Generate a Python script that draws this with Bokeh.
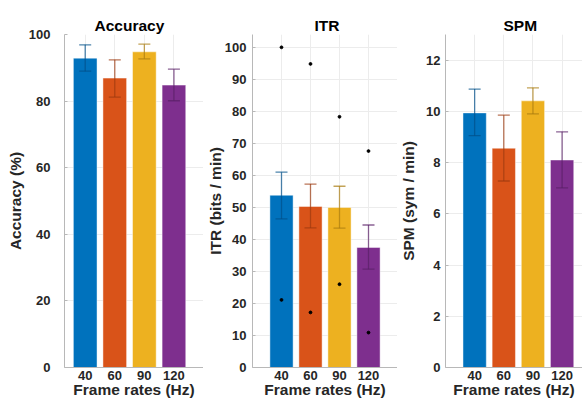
from bokeh.plotting import figure
from bokeh.layouts import row
from bokeh.models import FixedTicker, Range1d, ColumnDataSource
from bokeh.embed import file_html
from bokeh.resources import INLINE

categories = ["40", "60", "90", "120"]
acc_mean = [92.9, 86.9, 94.8, 84.8]
acc_lo = [89.0, 81.2, 92.7, 80.1]
acc_hi = [96.9, 92.4, 97.1, 89.6]
itr_mean = [53.8, 50.3, 50.0, 37.5]
itr_lo = [46.4, 43.6, 43.5, 30.7]
itr_hi = [61.0, 57.3, 56.6, 44.5]
itr_max = [100.0, 94.8, 78.3, 67.6]
itr_min = [21.1, 17.2, 26.0, 10.9]
spm_mean = [9.94, 8.56, 10.41, 8.10]
spm_lo = [9.05, 7.28, 9.90, 7.01]
spm_hi = [10.87, 9.85, 10.92, 9.20]
acc_ticks = [0, 20, 40, 60, 80, 100]
itr_ticks = [0, 10, 20, 30, 40, 50, 60, 70, 80, 90, 100]
spm_ticks = [0, 2, 4, 6, 8, 10, 12]

bar_colors = ["#0072BD", "#D95319", "#EDB120", "#7E2F8E"]
err_colors = ["#00508a", "#9c3a0f", "#a97c10", "#5a1f66"]
FONT = "Liberation Sans"
TXT = "#262626"
AX = "#b8b8b8"
GRID = "#ececec"

xpos = [i + 1 for i in range(len(categories))]


def panel(title, ylabel, mean, lo, hi, yticks, xr, yr, width, left,
          title_off, tick_standoff, label_standoff, extra=None):
    p = figure(width=width, height=401, x_range=Range1d(*xr), y_range=Range1d(*yr),
               output_backend="svg", toolbar_location=None, title=title,
               min_border_left=left, min_border_right=0, min_border_top=34,
               min_border_bottom=34)
    p.outline_line_color = None
    p.title.align = "left"
    p.title.offset = title_off
    p.title.standoff = 1
    p.title.text_font = FONT
    p.title.text_font_style = "bold"
    p.title.text_font_size = "15.5px"
    p.title.text_color = "#000000"

    src = ColumnDataSource(dict(x=xpos, top=mean, lo=lo, hi=hi,
                                c=bar_colors, ec=err_colors))
    p.vbar(x="x", top="top", bottom=0, width=0.8, source=src, fill_color="c",
           line_color="white", line_alpha=0.45, line_width=1)
    p.segment(x0="x", y0="lo", x1="x", y1="hi", source=src, line_color="ec",
              line_alpha=0.7, line_width=1.3)
    p.scatter(x="x", y="hi", source=src, marker="dash", size=12, line_color="ec",
              line_alpha=0.7, line_width=1.3)
    p.scatter(x="x", y="lo", source=src, marker="dash", size=12, line_color="ec",
              line_alpha=0.7, line_width=1.3)
    if extra is not None:
        for vals in extra:
            p.scatter(x=xpos, y=vals, size=2.8, color="black")

    p.xaxis.ticker = FixedTicker(ticks=xpos)
    p.xaxis.major_label_overrides = {x: c for x, c in zip(xpos, categories)}
    p.xgrid.ticker = FixedTicker(ticks=xpos)
    p.yaxis.ticker = FixedTicker(ticks=yticks)
    p.ygrid.ticker = FixedTicker(ticks=yticks)
    for g in (p.xgrid, p.ygrid):
        g.grid_line_color = GRID
        g.grid_line_width = 1
    p.xaxis.axis_label = "Frame rates (Hz)"
    p.yaxis.axis_label = ylabel
    for ax in (p.xaxis, p.yaxis):
        ax.axis_line_color = AX
        ax.major_tick_line_color = AX
        ax.minor_tick_line_color = None
        ax.major_tick_out = 0
        ax.major_tick_in = 3
        ax.major_label_text_font = FONT
        ax.major_label_text_font_style = "bold"
        ax.major_label_text_font_size = "13px"
        ax.major_label_text_color = TXT
        ax.axis_label_text_font = FONT
        ax.axis_label_text_font_style = "bold"
        ax.axis_label_text_font_size = "15.5px"
        ax.axis_label_text_color = TXT
    p.xaxis.major_tick_line_color = None
    p.xaxis.major_label_standoff = 3
    p.xaxis.axis_label_standoff = -2
    p.yaxis.major_label_standoff = tick_standoff
    p.yaxis.axis_label_standoff = label_standoff
    return p


p1 = panel("Accuracy", "Accuracy (%)", acc_mean, acc_lo, acc_hi, acc_ticks,
           (0.3, 5.0), (0, 100), 203, 64, 30, 14, 2)
p2 = panel("ITR", "ITR (bits / min)", itr_mean, itr_lo, itr_hi, itr_ticks,
           (0.0, 5.0), (0, 104), 194, 46, 62, 6, -2, extra=[itr_max, itr_min])
p3 = panel("SPM", "SPM (sym / min)", spm_mean, spm_lo, spm_hi, spm_ticks,
           (0.0, 4.7), (0, 13), 185, 46, 58, 5, 6)

layout = row(p1, p2, p3, spacing=0)
open("out.html", "w").write(file_html(layout, INLINE))
